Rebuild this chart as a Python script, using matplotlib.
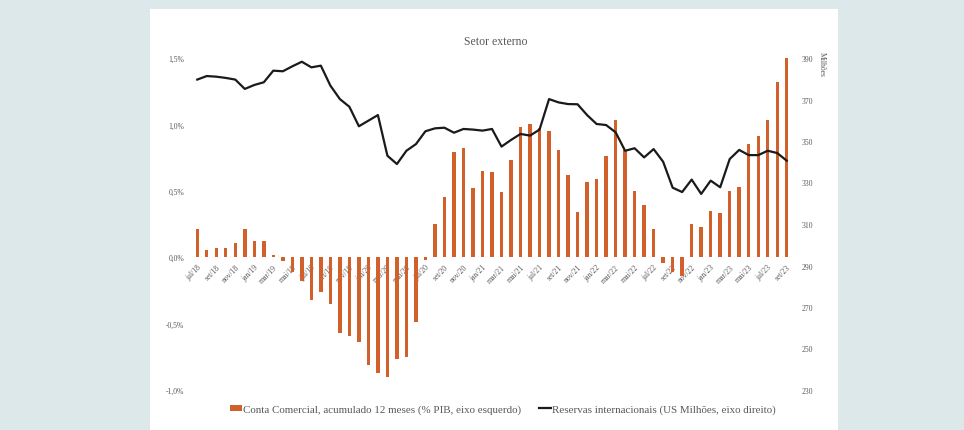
import matplotlib
matplotlib.use("Agg")
import matplotlib.pyplot as plt
from matplotlib.patches import Rectangle
from matplotlib.lines import Line2D
from matplotlib.patches import Patch

plt.rcParams['font.family'] = ['Liberation Serif', 'DejaVu Serif']

# monthly data, jul/18 .. set/23
meses = ["jan", "fev", "mar", "abr", "mai", "jun", "jul", "ago", "set", "out", "nov", "dez"]
periodos = []
for ano in range(2018, 2024):
    for m in meses:
        periodos.append(f"{m}/{str(ano)[2:]}")
periodos = periodos[6:6 + 63]

# Conta comercial, acumulado 12 meses (% PIB)
conta_comercial = [
    0.21, 0.055, 0.07, 0.07, 0.11, 0.21, 0.12, 0.12, 0.02, -0.025,
    -0.11, -0.18, -0.32, -0.26, -0.35, -0.57, -0.59, -0.64, -0.81, -0.87,
    -0.90, -0.77, -0.75, -0.49, -0.02, 0.25, 0.45, 0.79, 0.82, 0.52,
    0.65, 0.64, 0.49, 0.73, 0.98, 1.00, 0.97, 0.95, 0.81, 0.62,
    0.34, 0.57, 0.59, 0.76, 1.03, 0.81, 0.50, 0.39, 0.21, -0.04,
    -0.11, -0.14, 0.25, 0.23, 0.35, 0.33, 0.50, 0.53, 0.85, 0.91,
    1.03, 1.32, 1.51,
]

# Reservas internacionais (US$ bilhoes)
reservas = [
    379.6, 381.3, 381.0, 380.4, 379.6, 375.1, 377.0, 378.3, 383.9, 383.6,
    386.0, 388.2, 385.5, 386.3, 376.7, 370.2, 366.5, 357.1, 359.8, 362.5,
    342.9, 338.9, 345.3, 348.5, 354.7, 356.1, 356.4, 354.0, 355.8, 355.5,
    355.0, 355.8, 347.3, 350.5, 353.4, 352.6, 355.5, 370.2, 368.6, 367.8,
    367.7, 362.5, 358.2, 357.7, 354.2, 345.3, 346.5, 342.1, 346.1, 340.0,
    327.5, 325.4, 331.4, 324.5, 330.9, 327.7, 341.3, 345.7, 343.2, 343.2,
    345.3, 344.2, 340.5,
]

esq_ticks = [-1.0, -0.5, 0.0, 0.5, 1.0, 1.5]
dir_ticks = [230, 250, 270, 290, 310, 330, 350, 370, 390]

laranja = "#D2602A"
cinza = "#595959"

fig = plt.figure(figsize=(9.64, 4.31), dpi=100)
fig.patch.set_facecolor("#DDE8EA")
# white panel
fig.add_artist(Rectangle((150 / 964, 0), (838 - 150) / 964, (431 - 10) / 431,
                         transform=fig.transFigure, facecolor="white",
                         edgecolor="none", zorder=0))

ax = fig.add_axes([192.5 / 964, 1 - 391 / 431, (791.5 - 192.5) / 964, (391 - 59) / 431])
ax.patch.set_alpha(0)
x = list(range(len(periodos)))

ax.bar(x, conta_comercial, width=0.36, color=laranja, zorder=2)
ax.set_xlim(-0.5, len(periodos) - 0.5)
ax.set_ylim(-1.0, 1.5)
ax.spines["bottom"].set_position(("data", 0))
for s in ax.spines.values():
    s.set_visible(False)

ax.set_yticks(esq_ticks)
ax.set_yticklabels([f"{v:.1f}%".replace(".", ",") for v in esq_ticks])
ax.set_xticks(x[::2])
ax.set_xticklabels(periodos[::2], rotation=45, ha="right", rotation_mode="anchor")
ax.tick_params(axis="both", length=0, colors=cinza, labelsize=5.5)
ax.tick_params(axis="y", pad=6)
ax.tick_params(axis="x", pad=4)

ax2 = ax.twinx()
ax2.plot(x, reservas, color="#1a1a1a", lw=1.6, zorder=3)
ax2.set_ylim(230, 390)
ax2.set_yticks(dir_ticks)
for s in ax2.spines.values():
    s.set_visible(False)
ax2.tick_params(axis="y", length=0, colors=cinza, labelsize=5.5, pad=7)
fig.text(822 / 964, 1 - 64 / 431, "Milhões", rotation=270, ha="center", va="center",
         fontsize=5.5, color=cinza)

fig.text(496 / 964, 1 - 42 / 431, "Setor externo", ha="center", va="center",
         fontsize=8.5, color=cinza)

handles = [Patch(facecolor=laranja, edgecolor="none"),
           Line2D([0], [0], color="#1a1a1a", lw=1.6)]
labels = ["Conta Comercial, acumulado 12 meses (% PIB, eixo esquerdo)",
          "Reservas internacionais (US Milhões, eixo direito)"]
fig.legend(handles, labels, loc="center", bbox_to_anchor=(503 / 964, 1 - 410 / 431),
           ncol=2, frameon=False, fontsize=7.9, handlelength=1.1, handleheight=0.5,
           handletextpad=0.1, columnspacing=1.6, labelcolor=cinza)

fig.savefig("out.png", dpi=100, facecolor=fig.get_facecolor())
